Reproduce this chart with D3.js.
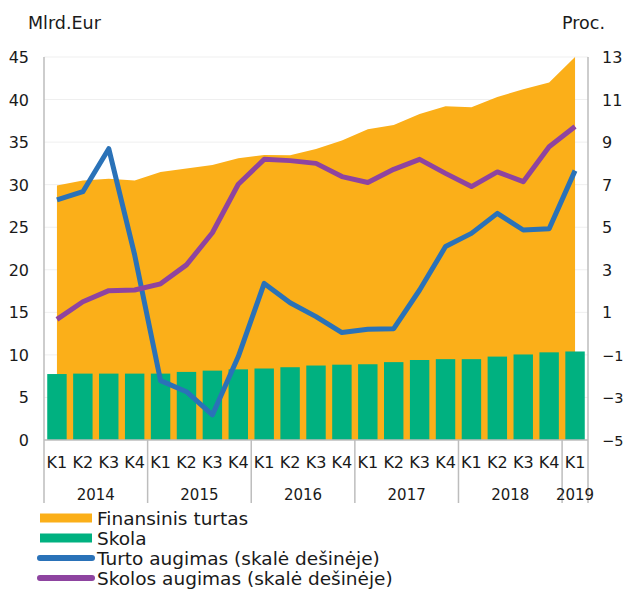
<!DOCTYPE html>
<html>
<head>
<meta charset="utf-8">
<script src="https://cdn.jsdelivr.net/npm/d3@7"></script>
<style>
  body { margin: 0; background: #fff; }
  text { font-family: "DejaVu Sans", Verdana, sans-serif; fill: #1a1a1a; }
</style>
</head>
<body>
<svg id="chart"></svg>
<script>
// quarters and years
const quarters = ['K1','K2','K3','K4','K1','K2','K3','K4','K1','K2','K3','K4',
                  'K1','K2','K3','K4','K1','K2','K3','K4','K1'];
const years = ['2014','2015','2016','2017','2018','2019'];
const quartersPerYear = [4, 4, 4, 4, 4, 1];

// Finansinis turtas (left scale, mlrd. Eur)
const turtas = [29.9, 30.5, 30.7, 30.5, 31.5, 31.9, 32.3, 33.1, 33.5, 33.45, 34.2,
                35.2, 36.5, 37.0, 38.3, 39.2, 39.1, 40.3, 41.2, 42.0, 45.0];
// Skola (left scale)
const skola = [7.75, 7.8, 7.8, 7.8, 7.8, 8.0, 8.15, 8.3, 8.4, 8.55, 8.75,
               8.85, 8.9, 9.15, 9.4, 9.5, 9.5, 9.8, 10.05, 10.3, 10.4];
// Turto augimas (right scale, proc.)
const turtoAugimas = [6.28, 6.67, 8.69, 3.7, -2.21, -2.73, -3.82, -1.08, 2.36, 1.45, 0.8,
                      0.05, 0.2, 0.23, 2.05, 4.09, 4.71, 5.65, 4.87, 4.93, 7.66];
// Skolos augimas (right scale)
const skolosAugimas = [0.67, 1.5, 2.02, 2.05, 2.34, 3.23, 4.74, 7.02, 8.19, 8.13, 8.0,
                       7.38, 7.1, 7.72, 8.19, 7.53, 6.91, 7.6, 7.14, 8.78, 9.73];

const leftTicks = [0, 5, 10, 15, 20, 25, 30, 35, 40, 45];
const rightTicks = [-5, -3, -1, 1, 3, 5, 7, 9, 11, 13];

const colors = { turtas: '#fbaf19', skola: '#00b180', turto: '#2a72b8', skolos: '#8e44a0' };

const width = 624, height = 589;
const plotLeft = 44, plotRight = 588, plotTop = 57, plotBottom = 440;

const svg = d3.select('#chart').attr('width', width).attr('height', height);

const idx = d3.range(quarters.length);
const x = d3.scaleBand().domain(idx).range([plotLeft, plotRight]).paddingInner(0.25).paddingOuter(0.125);
const cx = i => x(i) + x.bandwidth() / 2;
const yL = d3.scaleLinear().domain([0, 45]).range([plotBottom, plotTop]);
const yR = d3.scaleLinear().domain([-5, 13]).range([plotBottom, plotTop]);

// grid lines
svg.append('g').selectAll('line').data(leftTicks.slice(1)).enter().append('line')
    .attr('x1', plotLeft).attr('x2', plotRight)
    .attr('y1', d => yL(d)).attr('y2', d => yL(d))
    .attr('stroke', '#efefef').attr('stroke-width', 1);

// area
const area = d3.area().x((d, i) => cx(i)).y0(yL(0)).y1(d => yL(d));
svg.append('path').datum(turtas).attr('d', area).attr('fill', colors.turtas);

// bars
svg.append('g').selectAll('rect').data(skola).enter().append('rect')
    .attr('x', (d, i) => x(i))
    .attr('width', x.bandwidth())
    .attr('y', d => yL(d))
    .attr('height', d => yL(0) - yL(d))
    .attr('fill', colors.skola);

// lines
const line = d3.line().x((d, i) => cx(i)).y(d => yR(d));
[[turtoAugimas, colors.turto], [skolosAugimas, colors.skolos]].forEach(([data, c]) => {
    svg.append('path').datum(data).attr('d', line)
        .attr('fill', 'none').attr('stroke', c).attr('stroke-width', 5)
        .attr('stroke-linejoin', 'round');
});

// axis lines
const axisColor = '#bdbdbd';
svg.append('line').attr('x1', plotLeft).attr('x2', plotLeft).attr('y1', plotTop).attr('y2', plotBottom)
    .attr('stroke', axisColor).attr('stroke-width', 1.5);
svg.append('line').attr('x1', plotRight).attr('x2', plotRight).attr('y1', plotTop).attr('y2', plotBottom)
    .attr('stroke', axisColor).attr('stroke-width', 1.5);
svg.append('line').attr('x1', plotLeft).attr('x2', plotRight).attr('y1', plotBottom).attr('y2', plotBottom)
    .attr('stroke', axisColor).attr('stroke-width', 1.5);

// left tick labels
svg.append('g').selectAll('text').data(leftTicks).enter().append('text')
    .attr('x', 29).attr('y', d => yL(d) + 6)
    .attr('text-anchor', 'end').attr('font-size', 16)
    .text(d => d);

// right tick labels (negative ones are tight against the edge)
svg.append('g').selectAll('text').data(rightTicks).enter().append('text')
    .attr('x', 602).attr('y', d => yR(d) + 6)
    .attr('font-size', d => d < 0 ? 14.5 : 16)
    .text(d => d < 0 ? '\u2212' + Math.abs(d) : d);

// axis titles
svg.append('text').attr('x', 28).attr('y', 29).attr('font-size', 17.5).text('Mlrd.Eur');
svg.append('text').attr('x', 605).attr('y', 29).attr('font-size', 17.5)
    .attr('text-anchor', 'end').text('Proc.');

// quarter labels
svg.append('g').selectAll('text').data(quarters).enter().append('text')
    .attr('x', (d, i) => cx(i)).attr('y', 468)
    .attr('text-anchor', 'middle').attr('font-size', 16)
    .text(d => d);

// year dividers and labels
let start = 0;
const step = x.step();
years.forEach((yr, j) => {
    const n = quartersPerYear[j];
    const x0 = plotLeft + start * step;
    const x1 = plotLeft + (start + n) * step;
    svg.append('line').attr('x1', x0).attr('x2', x0).attr('y1', plotBottom).attr('y2', 503)
        .attr('stroke', axisColor).attr('stroke-width', 1.5);
    if (j === years.length - 1) {
        svg.append('line').attr('x1', x1).attr('x2', x1).attr('y1', plotBottom).attr('y2', 503)
            .attr('stroke', axisColor).attr('stroke-width', 1.5);
    }
    svg.append('text').attr('x', (x0 + x1) / 2).attr('y', 500)
        .attr('text-anchor', 'middle').attr('font-size', 15)
        .text(yr);
    start += n;
});

// legend
const legend = [
    { name: 'Finansinis turtas', color: colors.turtas, type: 'rect' },
    { name: 'Skola', color: colors.skola, type: 'rect' },
    { name: 'Turto augimas (skalė dešinėje)', color: colors.turto, type: 'line' },
    { name: 'Skolos augimas (skalė dešinėje)', color: colors.skolos, type: 'line' }
];
const lg = svg.append('g').selectAll('g').data(legend).enter().append('g')
    .attr('transform', (d, i) => `translate(0, ${518 + i * 20})`);
lg.filter(d => d.type === 'rect').append('rect')
    .attr('x', 40).attr('y', -4.5).attr('width', 52).attr('height', 9)
    .attr('fill', d => d.color);
lg.filter(d => d.type === 'line').append('line')
    .attr('x1', 40).attr('x2', 92).attr('y1', 0).attr('y2', 0)
    .attr('stroke', d => d.color).attr('stroke-width', 6).attr('stroke-linecap', 'round');
lg.append('text').attr('x', 97).attr('y', 6.5).attr('font-size', 18.5)
    .text(d => d.name);
</script>
</body>
</html>
